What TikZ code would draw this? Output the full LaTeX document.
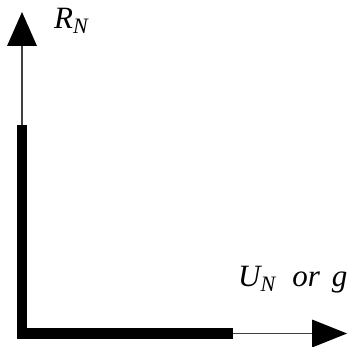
\documentclass[tikz,border=0pt]{standalone}
\usepackage{fontspec}
\setmainfont{Liberation Serif}
\begin{document}
\begin{tikzpicture}[x=1pt,y=-1pt,
  thinaxis/.style={line width=1.1pt,black!75},
  thickbar/.style={line width=10.5pt,line join=miter,line cap=butt},
  head/.style={fill=black,draw=none},
  lbl/.style={inner sep=0pt,anchor=base west,font=\fontsize{31}{35}\selectfont\itshape}]
\useasboundingbox (0,0) rectangle (350,347);
\coordinate (o) at (22,333.5);
\coordinate (ytop) at (22,46);
\coordinate (xend) at (312,333.5);
\coordinate (barT) at (22,125);
\coordinate (barR) at (233,333.5);
\draw[thinaxis] (o) -- (ytop);
\draw[thinaxis] (o) -- (xend);
\draw[thickbar] (barT) -- (o) -- (barR);
\fill[head] (7,46) -- (37,46) -- (22,12) -- cycle;
\fill[head] (312,319.5) -- (312,347.5) -- (347,333.5) -- cycle;
\node[lbl] (rn) at (54,29) {R\raisebox{-5pt}{\fontsize{22}{25}\selectfont N}};
\node[lbl] (un) at (238,286) {U\raisebox{-5pt}{\fontsize{22}{25}\selectfont N}\hspace{17pt}or\hspace{12pt}g};
\end{tikzpicture}
\end{document}
